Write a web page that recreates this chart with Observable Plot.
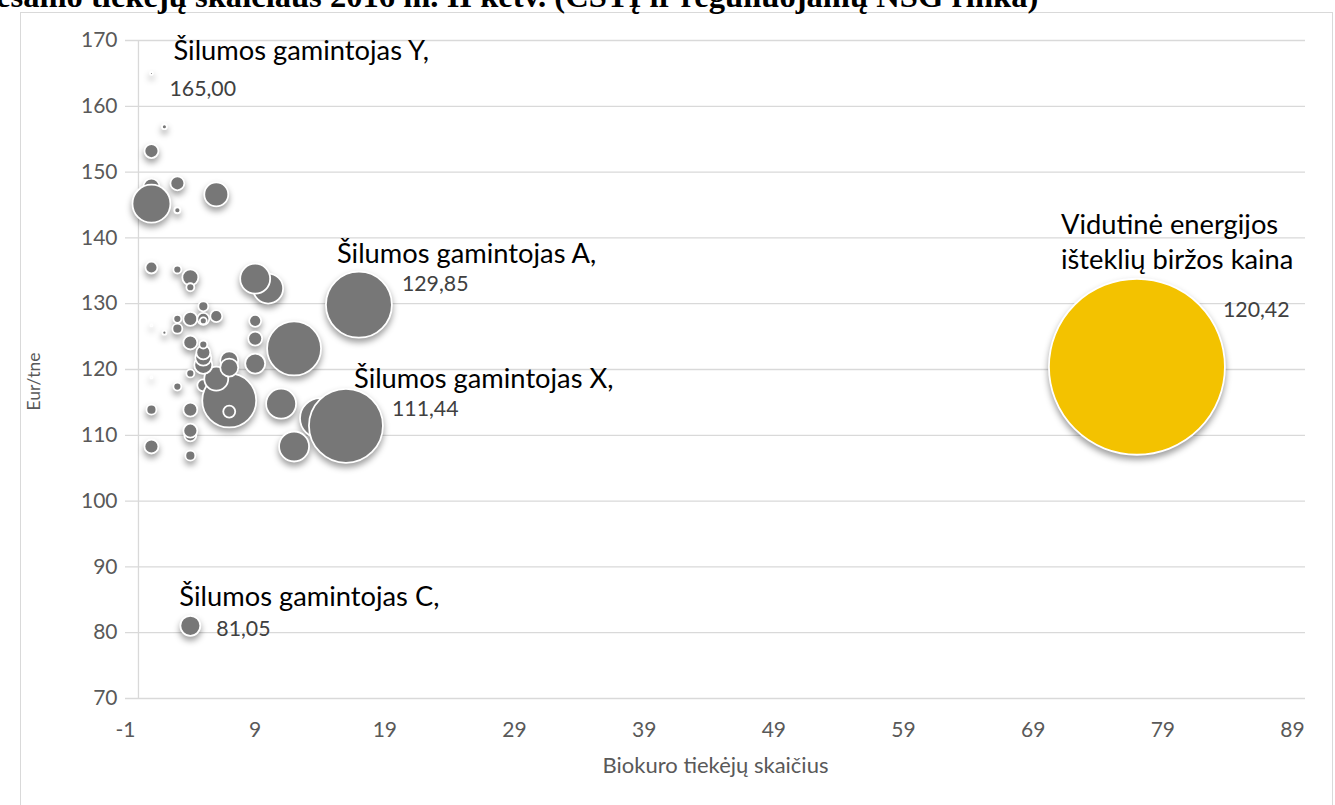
<!DOCTYPE html>
<html><head><meta charset="utf-8">
<script src="https://cdn.jsdelivr.net/npm/d3@7"></script>
<script src="https://cdn.jsdelivr.net/npm/@observablehq/plot@0.6"></script>
<style>
html,body{margin:0;padding:0;background:#fff;overflow:hidden;}
#wrap{position:relative;width:1335px;height:805px;overflow:hidden;background:#fff;}
#chart{position:absolute;left:0;top:0;}
#frame{position:absolute;left:20px;top:12px;width:1313px;height:900px;border:1px solid #d9d9d9;box-sizing:border-box;pointer-events:none;}
#title{position:absolute;left:-4px;top:-17px;font:bold 32.6px "Liberation Serif","Times New Roman",serif;white-space:nowrap;line-height:26px;color:#000;}
</style></head><body>
<div id="wrap"><div id="chart"></div><div id="frame"></div><div id="title">esamo tiekėjų skaičiaus 2016 m. II ketv. (CŠTĮ ir reguliuojamų NŠG rinka)</div></div>
<script>
// Bubble data (draw order): biofuel supplier count, price Eur/tne, bubble size (purchase volume, relative)
const suppliers = [77, 14, 16, 17, 12, 5, 7, 1, 1, 10, 9, 11, 12, 6, 6, 4, 9, 7, 7, 5, 4, 5, 1, 3, 4, 4, 5, 9, 4, 4, 4, 1, 1, 5, 6, 9, 7, 5, 3, 1, 4, 3, 4, 3, 5, 4, 3, 5, 3, 2, 2, 1, 1, 1];
const prices    = [120.42, 112.6, 111.44, 129.85, 123.2, 117.6, 115.3, 147.8, 145.2, 132.3, 133.8, 114.8, 108.3, 146.6, 118.6, 81.05, 120.9, 121.4, 120.3, 120.7, 134.0, 121.8, 153.2, 148.3, 127.7, 124.1, 122.6, 124.7, 113.9, 110.0, 110.7, 108.3, 135.5, 127.7, 128.1, 127.4, 113.6, 129.6, 126.2, 113.9, 106.9, 135.2, 132.5, 127.7, 123.8, 119.4, 117.4, 127.4, 144.2, 156.9, 125.6, 165.00, 126.7, 118.8];
const volumes   = [7744, 400, 1369, 1089, 729, 36, 729, 64, 361, 225, 225, 225, 225, 144, 144, 100, 100, 81, 81, 81, 64, 64, 49, 49, 49, 49, 49, 49, 49, 36, 49, 49, 36, 36, 36, 36, 36, 25, 25, 25, 25, 16, 16, 16, 16, 16, 16, 12, 9, 6, 4, 2, 1, 1];
const colors    = ["market"].concat(Array(53).fill("producer"));

// Labels
const labelNames  = ["Šilumos gamintojas Y,", "Šilumos gamintojas A,", "Šilumos gamintojas X,", "Šilumos gamintojas C,", "Vidutinė energijos\ništeklių biržos kaina"];
const labelPrices = [165.00, 129.85, 111.44, 81.05, 120.42];

// Axis ticks
const xTicks = [-1, 9, 19, 29, 39, 49, 59, 69, 79, 89];
const yTicks = [70, 80, 90, 100, 110, 120, 130, 140, 150, 160, 170];
const xTitle = "Biokuro tiekėjų skaičius";
const yTitle = "Eur/tne";

const pts = suppliers.map((x, i) => ({x, y: prices[i], v: volumes[i], c: colors[i]}));
const fmt = v => d3.format(".2f")(v).replace(".", ",");
const lab = labelPrices.map((p, i) => Object.assign({}, pts.find(d => d.y === p), {name: labelNames[i], value: fmt(p)}));

const F = "Lato, 'Open Sans', sans-serif";
const nameMark = (i, dx, dy, o = {}) => Plot.text([lab[i]], Object.assign({x: "x", y: "y", text: "name", dx, dy, textAnchor: "start", lineAnchor: "bottom", fontSize: 27.3, fontFamily: F, fill: "#000"}, o));
const valMark = (i, dx, dy) => Plot.text([lab[i]], {x: "x", y: "y", text: "value", dx, dy, textAnchor: "start", lineAnchor: "bottom", fontSize: 21.3, fontFamily: F, fill: "#404040"});

const chart = Plot.plot({
  width: 1335, height: 805,
  marginLeft: 125, marginRight: 30, marginTop: 40, marginBottom: 107,
  style: {background: "none", fontFamily: F},
  x: {domain: [-1, 90]},
  y: {domain: [70, 170]},
  r: {domain: [0, 7744], range: [0, 88]},
  color: {domain: ["market", "producer"], range: ["#f3c200", "#777777"]},
  marks: [
    Plot.gridY(yTicks, {stroke: "#d9d9d9", strokeOpacity: 1, strokeWidth: 1.3}),
    Plot.ruleX([0], {stroke: "#d9d9d9", strokeWidth: 1.3}),
    Plot.axisY(yTicks, {tickSize: 0, tickPadding: 8, fontSize: 21, fill: "#595959", label: null, fontFamily: F}),
    Plot.axisX(xTicks, {tickSize: 0, tickPadding: 24, fontSize: 21, fill: "#595959", label: null, fontFamily: F, tickFormat: d => String(d)}),
    Plot.text([xTitle], {frameAnchor: "bottom", dy: 74, lineAnchor: "bottom", fontSize: 22, fill: "#595959", fontFamily: F}),
    Plot.text([yTitle], {frameAnchor: "left", dx: -91, dy: 12, rotate: -90, textAnchor: "middle", fontSize: 17.5, fill: "#595959", fontFamily: F}),
    Plot.dot(pts, {x: "x", y: "y", r: "v", fill: "c", stroke: "white", strokeWidth: 1.8, sort: null}),
    nameMark(0, 22, -13), valMark(0, 18, 23),
    nameMark(1, -22, -42), valMark(1, 43, -14),
    nameMark(2, 8, -38), valMark(2, 46, -10),
    nameMark(3, -11, -20), valMark(3, 26, 10),
    nameMark(4, -76, -158, {lineAnchor: "top", lineHeight: 1.3}), valMark(4, 86, -50)
  ]
});
document.getElementById("chart").appendChild(chart);
d3.select(chart).selectAll("g[aria-label='dot']").style("filter", "drop-shadow(0px 4px 3px rgba(0,0,0,0.38))");
</script>
</body></html>
